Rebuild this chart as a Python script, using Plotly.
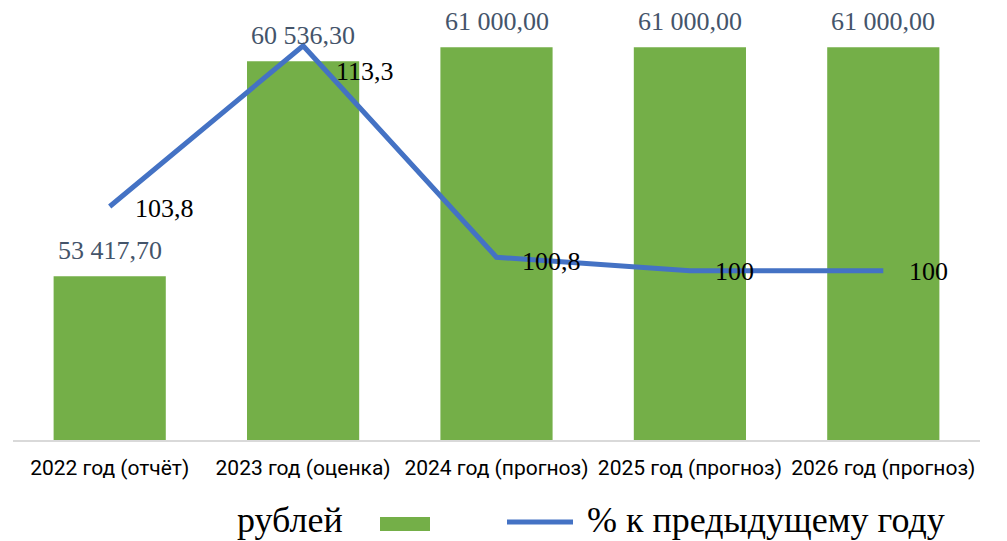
import plotly.graph_objects as go

categories = ["2022 год (отчёт)", "2023 год (оценка)", "2024 год (прогноз)",
              "2025 год (прогноз)", "2026 год (прогноз)"]
rubles = [53417.70, 60536.30, 61000.00, 61000.00, 61000.00]
percent = [103.8, 113.3, 100.8, 100, 100]
percent_labels = ["103,8", "113,3", "100,8", "100", "100"]
bar_name = "рублей"
line_name = "% к предыдущему году"

def fmt(v):
    return f"{v:,.2f}".replace(",", " ").replace(".", ",")

bar_labels = [fmt(v) for v in rubles]

# page body has an 8px margin; figure is sized so it ends at the window edge
OFF = 8
W, H = 1007 - OFF, 541 - OFF
# plot area in window pixels: x 13..980, y 17..440
L = 13 - OFF
T = 17 - OFF
R = W - (980 - OFF)
B = H - (440 - OFF)
pw, ph = W - L - R, H - T - B

def px(x):
    return (x - OFF - L) / pw

def py(y):
    return (H - B - (y - OFF)) / ph

serif = "Liberation Serif, Times New Roman, serif"

fig = go.Figure()
fig.add_trace(go.Bar(
    x=categories, y=rubles, name=bar_name,
    marker=dict(color="#74AF48", line=dict(width=0)),
    width=0.58, showlegend=False,
))
fig.add_trace(go.Scatter(
    x=categories, y=percent, name=line_name, yaxis="y2",
    mode="lines", line=dict(color="#4472C4", width=5), showlegend=False,
))

annotations = []
# bar value labels
for c, v, t in zip(categories, rubles, bar_labels):
    annotations.append(dict(
        x=c, y=v, xref="x", yref="y", text=t, showarrow=False,
        xanchor="center", yanchor="bottom", yshift=9,
        font=dict(family=serif, size=26, color="#44546A"),
    ))

# line value labels, offsets in px
xshifts = [23, 31, 23, 23, 24]
yshifts = [-2, -26, -4, -1, -1]
for c, v, t, xs, ys in zip(categories, percent, percent_labels, xshifts, yshifts):
    annotations.append(dict(
        x=c, y=v, xref="x", yref="y2", text=t, showarrow=False,
        xanchor="left", yanchor="middle", xshift=xs, yshift=ys,
        font=dict(family=serif, size=26, color="#000000"),
    ))

# manual legend
legend_font = dict(family=serif, size=36, color="#000000")
annotations.append(dict(x=px(345), y=py(520), xref="paper", yref="paper", text=bar_name,
                        showarrow=False, xanchor="right", yanchor="middle", font=legend_font))
annotations.append(dict(x=px(585), y=py(520), xref="paper", yref="paper", text=line_name,
                        showarrow=False, xanchor="left", yanchor="middle", font=legend_font))
shapes = [
    dict(type="rect", xref="paper", yref="paper", x0=px(380), x1=px(430), y0=py(531), y1=py(517),
         fillcolor="#74AF48", line=dict(width=0)),
    dict(type="line", xref="paper", yref="paper", x0=px(507), x1=px(573), y0=py(522), y1=py(522),
         line=dict(color="#4472C4", width=5)),
]

fig.update_layout(
    width=W, height=H,
    margin=dict(l=L, r=R, t=T, b=B),
    paper_bgcolor="white", plot_bgcolor="white",
    xaxis=dict(showline=True, linecolor="#D9D9D9", linewidth=1.5, showgrid=False,
               ticks="", ticklabelstandoff=8,
               tickfont=dict(family="Roboto, sans-serif", size=21, color="#000000")),
    yaxis=dict(range=[48000, 62000], visible=False, showgrid=False),
    yaxis2=dict(range=[90, 115], overlaying="y", side="right", visible=False, showgrid=False),
    annotations=annotations, shapes=shapes,
    showlegend=False,
)

fig.write_html("out.html")
